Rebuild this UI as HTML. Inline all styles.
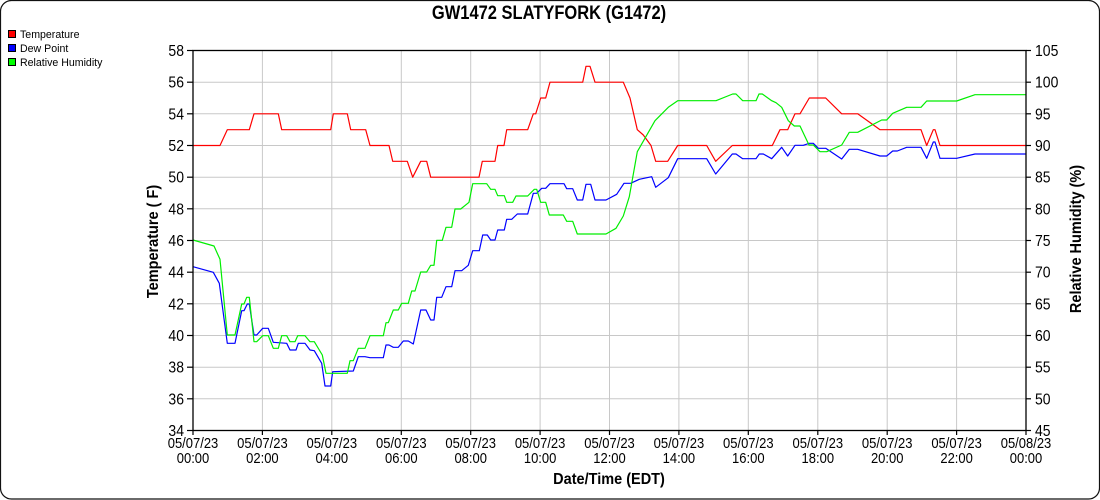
<!DOCTYPE html>
<html><head><meta charset="utf-8"><style>
html,body{margin:0;padding:0;background:#fff;}
svg{display:block;}
text{font-family:"Liberation Sans",Arial,sans-serif;fill:#000;}
</style></head><body>
<svg width="1100" height="500" viewBox="0 0 1100 500" xmlns="http://www.w3.org/2000/svg">
<rect x="0.5" y="0.5" width="1099" height="498.5" rx="11" ry="11" fill="#fff" stroke="#111" stroke-width="1.2"/>
<text transform="translate(549,19) scale(1,1.15)" text-anchor="middle" font-size="16.5" font-weight="bold">GW1472 SLATYFORK (G1472)</text>
<!-- legend -->
<rect x="8.5" y="30.5" width="7" height="7" fill="#f00" stroke="#000" stroke-width="1"/>
<text x="20" y="38" font-size="10.6">Temperature</text>
<rect x="8.5" y="44.5" width="7" height="7" fill="#00f" stroke="#000" stroke-width="1"/>
<text x="20" y="52" font-size="10.6">Dew Point</text>
<rect x="8.5" y="58.5" width="7" height="7" fill="#0f0" stroke="#000" stroke-width="1"/>
<text x="20" y="66" font-size="10.6">Relative Humidity</text>
<!-- grid -->
<g stroke="#c8c8c8" stroke-width="1">
<line x1="262.4" y1="50.5" x2="262.4" y2="430.5"/>
<line x1="331.8" y1="50.5" x2="331.8" y2="430.5"/>
<line x1="401.3" y1="50.5" x2="401.3" y2="430.5"/>
<line x1="470.7" y1="50.5" x2="470.7" y2="430.5"/>
<line x1="540.1" y1="50.5" x2="540.1" y2="430.5"/>
<line x1="609.5" y1="50.5" x2="609.5" y2="430.5"/>
<line x1="678.9" y1="50.5" x2="678.9" y2="430.5"/>
<line x1="748.3" y1="50.5" x2="748.3" y2="430.5"/>
<line x1="817.8" y1="50.5" x2="817.8" y2="430.5"/>
<line x1="887.2" y1="50.5" x2="887.2" y2="430.5"/>
<line x1="956.6" y1="50.5" x2="956.6" y2="430.5"/>
<line x1="193" y1="82.2" x2="1026" y2="82.2"/>
<line x1="193" y1="113.8" x2="1026" y2="113.8"/>
<line x1="193" y1="145.5" x2="1026" y2="145.5"/>
<line x1="193" y1="177.2" x2="1026" y2="177.2"/>
<line x1="193" y1="208.8" x2="1026" y2="208.8"/>
<line x1="193" y1="240.5" x2="1026" y2="240.5"/>
<line x1="193" y1="272.2" x2="1026" y2="272.2"/>
<line x1="193" y1="303.8" x2="1026" y2="303.8"/>
<line x1="193" y1="335.5" x2="1026" y2="335.5"/>
<line x1="193" y1="367.2" x2="1026" y2="367.2"/>
<line x1="193" y1="398.8" x2="1026" y2="398.8"/>
</g>
<!-- series -->
<g fill="none" stroke-width="1.2" stroke-linejoin="round">
<polyline stroke="#ff0000" points="193,145.5 220,145.5 227.3,129.7 249.3,129.7 254,113.8 278.3,113.8 281.7,129.7 330.7,129.7 333.3,113.8 347.3,113.8 350.7,129.7 365.7,129.7 370,145.5 389,145.5 392.7,161.3 407.3,161.3 412.7,177.2 420.7,161.3 426.7,161.3 430.7,177.2 479,177.2 482.3,161.3 495,161.3 497.7,145.5 504,145.5 506.7,129.7 527.7,129.7 533.3,113.8 535.7,113.8 540.7,98 545.7,98 550,82.2 582.7,82.2 586,66.3 590,66.3 595,82.2 623.3,82.2 630,98 637.3,129.7 643.3,135 651,145.5 655.7,161.3 667.7,161.3 677.7,145.5 706.7,145.5 715.7,161.3 732.3,145.5 772.3,145.5 780,129.7 787.7,129.7 795,113.8 800,113.8 809.3,98 825.7,98 841.7,113.8 857.7,113.8 880,129.7 921,129.7 926.7,145.5 933.3,129.7 935,129.7 940,145.5 1026,145.5"/>
<polyline stroke="#0000ff" points="193,266.7 213.3,272.3 219.3,283.3 227.3,343.3 235,343.3 241.7,310.7 244,310.7 247.3,304 249.3,304 254,335 256.7,335 262.7,328.3 268.3,328.3 273.3,342.3 286.7,343.3 290,350 296,350 298.3,343.3 305,343.3 310,350 314.3,350.7 321.7,363.3 325,386 330.7,386 332.7,371.7 353.3,371 358.3,356.7 365,356.7 370,357.7 383.3,357.7 386,345 389,345 393.3,347.3 398.3,347.3 403.3,341 408.3,341 413.3,344 420.7,310 426,310 430.7,320 434,320 436.7,297.3 441.7,297.3 446,286.7 451.7,286.7 455,270.7 461.7,270.7 468.3,265.3 472.7,250.7 479.3,250.7 482.7,235 487.3,235 490.7,240 495,240 497.7,230 504.3,230 506.7,219.3 511.7,219.3 517.3,214 527.7,214 533.3,193.3 536.7,193.3 541.7,188.3 545.7,188.3 550,183.7 564,183.7 566.7,188.7 572.7,188.7 577.3,200 582.7,200 586,184.3 590.7,184.3 595,200 606,200 616.7,194.3 624,183.3 630.7,183.3 639.3,179.3 651.7,176.7 655.7,187.3 668.3,177.7 677.7,158.7 706.7,158.7 715.7,174 732.3,154 736,154 742.7,158.7 756,158.7 759.3,154 763.3,154 771.7,158.7 781.7,147.3 787.7,156 795,145.3 803.3,145.3 809.3,143.3 813.3,143.3 818.3,148.3 825.7,148.3 841.7,159 849.3,149.3 857.7,149.3 880,156 886.7,156 892.7,151 897.3,151 906.7,147.3 921,147.3 926.7,158.3 933.3,142 935,142 940,158.3 956.7,158.3 975,154 1026,154"/>
<polyline stroke="#00ee00" points="193,240 214,246 220,259.3 227.3,335 235,335 241.7,304 244,304 246.7,297.3 249.3,297.3 254,341.7 256.7,341.7 262.7,335.7 268.3,335.7 273.3,348.3 278.3,348.3 281.7,335.7 286.7,335.7 290,341.7 295,341.7 297.7,335.7 305,335.7 310,341.7 314.3,341.7 322.3,355 326,373.3 347.3,373.3 350,360.7 353.3,360.7 358.3,348.3 365,348.3 370,335.7 383.3,335.7 386,322.7 388.3,322.7 393.3,310 398.3,310 401.7,303.3 408.3,303.3 411.7,291 415,291 420.7,272 426.7,272 430.7,265.3 434,265.3 436.7,240.3 442.3,240.3 446,227.3 451.7,227.3 455,209 460.7,209 469,202.3 472.7,183.7 486.7,183.7 490.7,189.3 495,189.3 497.7,195.7 504.3,195.7 506.7,202.3 512.7,202.3 516,196 527.7,196 534.3,189.3 536.7,189.3 540.7,202.3 545.7,202.3 549.3,215 563.3,215 566.7,221.3 572.7,221.3 577.3,234 606,234 616,228.3 623.3,216 629.3,196.7 637.3,151.7 655,120.7 668.3,107.3 677.7,100.7 716,100.7 732.7,94 736,94 742.7,100.7 756,100.7 759,94 762.3,94 771.7,100.7 776,102.7 781.7,107.3 788.3,120.7 794.3,126 800,126 809,145 813.3,145 820,151.7 826.7,151.7 841.7,145 849.3,132.3 857.7,132.3 881.7,120 886.7,120 892.7,113.3 906.7,107.3 921,107.3 926.7,101 956.7,101 975,94.7 1026,94.7"/>
</g>
<!-- frame -->
<rect x="193" y="50.5" width="833" height="380" fill="none" stroke="#000" stroke-width="1.3"/>
<!-- ticks -->
<g stroke="#000" stroke-width="1.2">
<line x1="187" y1="50.5" x2="193" y2="50.5"/><line x1="187" y1="82.2" x2="193" y2="82.2"/><line x1="187" y1="113.8" x2="193" y2="113.8"/><line x1="187" y1="145.5" x2="193" y2="145.5"/><line x1="187" y1="177.2" x2="193" y2="177.2"/><line x1="187" y1="208.8" x2="193" y2="208.8"/><line x1="187" y1="240.5" x2="193" y2="240.5"/><line x1="187" y1="272.2" x2="193" y2="272.2"/><line x1="187" y1="303.8" x2="193" y2="303.8"/><line x1="187" y1="335.5" x2="193" y2="335.5"/><line x1="187" y1="367.2" x2="193" y2="367.2"/><line x1="187" y1="398.8" x2="193" y2="398.8"/><line x1="187" y1="430.5" x2="193" y2="430.5"/>
<line x1="1026" y1="50.5" x2="1031" y2="50.5"/><line x1="1026" y1="82.2" x2="1031" y2="82.2"/><line x1="1026" y1="113.8" x2="1031" y2="113.8"/><line x1="1026" y1="145.5" x2="1031" y2="145.5"/><line x1="1026" y1="177.2" x2="1031" y2="177.2"/><line x1="1026" y1="208.8" x2="1031" y2="208.8"/><line x1="1026" y1="240.5" x2="1031" y2="240.5"/><line x1="1026" y1="272.2" x2="1031" y2="272.2"/><line x1="1026" y1="303.8" x2="1031" y2="303.8"/><line x1="1026" y1="335.5" x2="1031" y2="335.5"/><line x1="1026" y1="367.2" x2="1031" y2="367.2"/><line x1="1026" y1="398.8" x2="1031" y2="398.8"/><line x1="1026" y1="430.5" x2="1031" y2="430.5"/>
<line x1="193" y1="430.5" x2="193" y2="435"/><line x1="262.4" y1="430.5" x2="262.4" y2="435"/><line x1="331.8" y1="430.5" x2="331.8" y2="435"/><line x1="401.3" y1="430.5" x2="401.3" y2="435"/><line x1="470.7" y1="430.5" x2="470.7" y2="435"/><line x1="540.1" y1="430.5" x2="540.1" y2="435"/><line x1="609.5" y1="430.5" x2="609.5" y2="435"/><line x1="678.9" y1="430.5" x2="678.9" y2="435"/><line x1="748.3" y1="430.5" x2="748.3" y2="435"/><line x1="817.8" y1="430.5" x2="817.8" y2="435"/><line x1="887.2" y1="430.5" x2="887.2" y2="435"/><line x1="956.6" y1="430.5" x2="956.6" y2="435"/><line x1="1026" y1="430.5" x2="1026" y2="435"/>
</g>
<!-- left labels -->
<g font-size="14" text-anchor="end">
<text transform="translate(184,56) scale(1,1.15)">58</text>
<text transform="translate(184,87.7) scale(1,1.15)">56</text>
<text transform="translate(184,119.3) scale(1,1.15)">54</text>
<text transform="translate(184,151) scale(1,1.15)">52</text>
<text transform="translate(184,182.7) scale(1,1.15)">50</text>
<text transform="translate(184,214.3) scale(1,1.15)">48</text>
<text transform="translate(184,246) scale(1,1.15)">46</text>
<text transform="translate(184,277.7) scale(1,1.15)">44</text>
<text transform="translate(184,309.3) scale(1,1.15)">42</text>
<text transform="translate(184,341) scale(1,1.15)">40</text>
<text transform="translate(184,372.7) scale(1,1.15)">38</text>
<text transform="translate(184,404.3) scale(1,1.15)">36</text>
<text transform="translate(184,436) scale(1,1.15)">34</text>
</g>
<!-- right labels -->
<g font-size="14" text-anchor="start">
<text transform="translate(1035,56) scale(1,1.15)">105</text>
<text transform="translate(1035,87.7) scale(1,1.15)">100</text>
<text transform="translate(1035,119.3) scale(1,1.15)">95</text>
<text transform="translate(1035,151) scale(1,1.15)">90</text>
<text transform="translate(1035,182.7) scale(1,1.15)">85</text>
<text transform="translate(1035,214.3) scale(1,1.15)">80</text>
<text transform="translate(1035,246) scale(1,1.15)">75</text>
<text transform="translate(1035,277.7) scale(1,1.15)">70</text>
<text transform="translate(1035,309.3) scale(1,1.15)">65</text>
<text transform="translate(1035,341) scale(1,1.15)">60</text>
<text transform="translate(1035,372.7) scale(1,1.15)">55</text>
<text transform="translate(1035,404.3) scale(1,1.15)">50</text>
<text transform="translate(1035,436) scale(1,1.15)">45</text>
</g>
<!-- x labels -->
<g font-size="13" text-anchor="middle">
<text transform="translate(193,448) scale(1,1.15)">05/07/23</text><text transform="translate(193,463) scale(1,1.15)">00:00</text>
<text transform="translate(262.4,448) scale(1,1.15)">05/07/23</text><text transform="translate(262.4,463) scale(1,1.15)">02:00</text>
<text transform="translate(331.8,448) scale(1,1.15)">05/07/23</text><text transform="translate(331.8,463) scale(1,1.15)">04:00</text>
<text transform="translate(401.3,448) scale(1,1.15)">05/07/23</text><text transform="translate(401.3,463) scale(1,1.15)">06:00</text>
<text transform="translate(470.7,448) scale(1,1.15)">05/07/23</text><text transform="translate(470.7,463) scale(1,1.15)">08:00</text>
<text transform="translate(540.1,448) scale(1,1.15)">05/07/23</text><text transform="translate(540.1,463) scale(1,1.15)">10:00</text>
<text transform="translate(609.5,448) scale(1,1.15)">05/07/23</text><text transform="translate(609.5,463) scale(1,1.15)">12:00</text>
<text transform="translate(678.9,448) scale(1,1.15)">05/07/23</text><text transform="translate(678.9,463) scale(1,1.15)">14:00</text>
<text transform="translate(748.3,448) scale(1,1.15)">05/07/23</text><text transform="translate(748.3,463) scale(1,1.15)">16:00</text>
<text transform="translate(817.8,448) scale(1,1.15)">05/07/23</text><text transform="translate(817.8,463) scale(1,1.15)">18:00</text>
<text transform="translate(887.2,448) scale(1,1.15)">05/07/23</text><text transform="translate(887.2,463) scale(1,1.15)">20:00</text>
<text transform="translate(956.6,448) scale(1,1.15)">05/07/23</text><text transform="translate(956.6,463) scale(1,1.15)">22:00</text>
<text transform="translate(1026,448) scale(1,1.15)">05/08/23</text><text transform="translate(1026,463) scale(1,1.15)">00:00</text>
</g>
<!-- axis titles -->
<text transform="translate(609,484) scale(1,1.1)" text-anchor="middle" font-size="14.5" font-weight="bold">Date/Time (EDT)</text>
<text transform="translate(158,241.5) rotate(-90) scale(1,1.1)" text-anchor="middle" font-size="14.5" font-weight="bold">Temperature ( F)</text>
<text transform="translate(1081,239) rotate(-90) scale(1,1.1)" text-anchor="middle" font-size="14.5" font-weight="bold">Relative Humidity (%)</text>
</svg>
</body></html>
